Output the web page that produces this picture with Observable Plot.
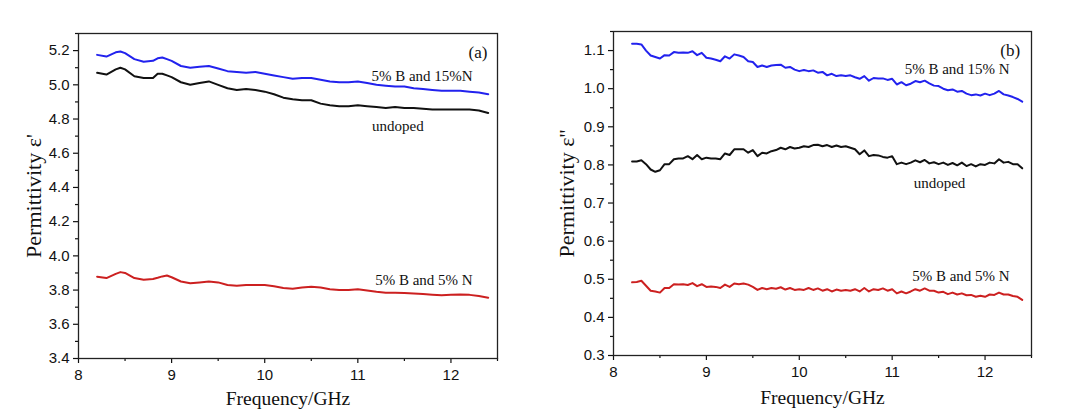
<!DOCTYPE html>
<html>
<head>
<meta charset="utf-8">
<script src="https://cdn.jsdelivr.net/npm/d3@7"></script>
<script src="https://cdn.jsdelivr.net/npm/@observablehq/plot@0.6"></script>
<style>
  html, body { margin: 0; padding: 0; background: #fff; }
  #wrap { display: flex; width: 1067px; height: 412px; }
  svg { display: block; }
</style>
</head>
<body>
<div id="wrap"></div>
<script>
// ---------- Panel (a): real permittivity ----------
const freqA = [8.2, 8.3, 8.4, 8.45, 8.5, 8.6, 8.7, 8.8, 8.85, 8.9, 8.95, 9.0,
  9.1, 9.2, 9.3, 9.4, 9.5, 9.6, 9.7, 9.8, 9.9,
  10.0, 10.1, 10.2, 10.3, 10.4, 10.5, 10.6, 10.7, 10.8, 10.9,
  11.0, 11.1, 11.2, 11.3, 11.4, 11.5, 11.6, 11.7, 11.8, 11.9,
  12.0, 12.1, 12.2, 12.3, 12.4];
const a_B15N = [5.175, 5.165, 5.19, 5.195, 5.185, 5.15, 5.135, 5.14, 5.155, 5.16, 5.15, 5.14,
  5.11, 5.10, 5.105, 5.11, 5.095, 5.08, 5.075, 5.07, 5.075,
  5.065, 5.055, 5.045, 5.035, 5.04, 5.04, 5.03, 5.02, 5.015, 5.015,
  5.02, 5.01, 5.0, 4.995, 4.99, 4.99, 4.98, 4.975, 4.97, 4.965,
  4.965, 4.965, 4.96, 4.955, 4.945];
const a_undoped = [5.07, 5.06, 5.09, 5.10, 5.09, 5.05, 5.04, 5.04, 5.065, 5.065, 5.055, 5.045,
  5.015, 5.0, 5.01, 5.02, 5.0, 4.98, 4.97, 4.975, 4.97,
  4.96, 4.945, 4.925, 4.915, 4.91, 4.91, 4.89, 4.88, 4.875, 4.875,
  4.88, 4.875, 4.87, 4.865, 4.87, 4.865, 4.865, 4.86, 4.855, 4.855,
  4.855, 4.855, 4.855, 4.85, 4.835];
const a_B5N = [3.878, 3.87, 3.895, 3.905, 3.90, 3.87, 3.86, 3.865, 3.872, 3.88, 3.885, 3.875,
  3.85, 3.84, 3.845, 3.85, 3.845, 3.83, 3.825, 3.83, 3.83,
  3.83, 3.822, 3.812, 3.808, 3.815, 3.82, 3.815, 3.805, 3.80, 3.80,
  3.805, 3.797, 3.79, 3.785, 3.785, 3.783, 3.78, 3.777, 3.773, 3.77,
  3.772, 3.774, 3.772, 3.765, 3.755];

// ---------- Panel (b): imaginary permittivity ----------
const freqB = [8.2, 8.25, 8.3, 8.35, 8.4, 8.45, 8.5, 8.55, 8.6, 8.65, 8.7, 8.75, 8.8, 8.85, 8.9, 8.95,
  9.0, 9.05, 9.1, 9.15, 9.2, 9.25, 9.3, 9.35, 9.4, 9.45, 9.5, 9.55, 9.6, 9.65, 9.7, 9.75, 9.8, 9.85, 9.9, 9.95,
  10.0, 10.05, 10.1, 10.15, 10.2, 10.25, 10.3, 10.35, 10.4, 10.45, 10.5, 10.55, 10.6, 10.65, 10.7, 10.75, 10.8, 10.85, 10.9, 10.95,
  11.0, 11.05, 11.1, 11.15, 11.2, 11.25, 11.3, 11.35, 11.4, 11.45, 11.5, 11.55, 11.6, 11.65, 11.7, 11.75, 11.8, 11.85, 11.9, 11.95,
  12.0, 12.05, 12.1, 12.15, 12.2, 12.25, 12.3, 12.35, 12.4];
const b_B15N = [1.118, 1.118, 1.116, 1.10, 1.087, 1.083, 1.079, 1.088, 1.087, 1.096, 1.094, 1.095, 1.094, 1.098, 1.088, 1.094,
  1.081, 1.079, 1.076, 1.072, 1.085, 1.079, 1.09, 1.087, 1.083, 1.072, 1.07, 1.057, 1.061, 1.057, 1.061, 1.062, 1.063, 1.055, 1.057, 1.05,
  1.046, 1.049, 1.046, 1.048, 1.042, 1.044, 1.035, 1.039, 1.033, 1.035, 1.033, 1.035, 1.03, 1.026, 1.033, 1.021, 1.028, 1.027, 1.027, 1.023,
  1.026, 1.011, 1.017, 1.009, 1.013, 1.02, 1.017, 1.021, 1.014, 1.008, 1.007, 1.0, 0.996, 0.998, 0.992, 0.994, 0.987, 0.983, 0.985, 0.982,
  0.987, 0.983, 0.987, 0.994, 0.985, 0.982, 0.978, 0.973, 0.966];
const b_undoped = [0.809, 0.809, 0.812, 0.802, 0.788, 0.782, 0.786, 0.802, 0.802, 0.815, 0.817, 0.817, 0.823, 0.815, 0.826, 0.815,
  0.819, 0.817, 0.817, 0.815, 0.83, 0.826, 0.841, 0.841, 0.841, 0.832, 0.839, 0.823, 0.832, 0.83, 0.836, 0.839, 0.845, 0.841, 0.847, 0.843,
  0.845, 0.849, 0.847, 0.852, 0.853, 0.849, 0.852, 0.847, 0.851, 0.847, 0.849, 0.845, 0.841, 0.828, 0.838, 0.823, 0.826, 0.825, 0.821, 0.819,
  0.823, 0.802, 0.806, 0.802, 0.806, 0.812, 0.807, 0.813, 0.804, 0.807, 0.802, 0.806, 0.8, 0.805, 0.799, 0.806, 0.797, 0.802, 0.796, 0.802,
  0.8, 0.806, 0.804, 0.815, 0.806, 0.808, 0.802, 0.802, 0.791];
const b_B5N = [0.492, 0.493, 0.496, 0.483, 0.47, 0.468, 0.465, 0.477, 0.477, 0.487, 0.486, 0.487, 0.485, 0.49, 0.482, 0.487,
  0.48, 0.481, 0.48, 0.477, 0.486, 0.48, 0.489, 0.487, 0.489, 0.486, 0.48, 0.472, 0.477, 0.474, 0.477, 0.475, 0.479, 0.473, 0.477, 0.472,
  0.474, 0.472, 0.477, 0.472, 0.476, 0.47, 0.474, 0.468, 0.473, 0.47, 0.472, 0.47, 0.474, 0.468, 0.477, 0.468, 0.474, 0.472, 0.476, 0.47,
  0.474, 0.463, 0.468, 0.463, 0.468, 0.474, 0.47, 0.476, 0.47, 0.47, 0.465, 0.467, 0.461, 0.465, 0.46, 0.463, 0.458, 0.459, 0.454, 0.457,
  0.454, 0.46, 0.459, 0.465, 0.46, 0.46, 0.456, 0.454, 0.446];

// ---------- Labels and ticks ----------
const seriesNames = ["5% B and 15% N", "undoped", "5% B and 5% N"];
const seriesColors = ["#2222ee", "#111111", "#cc2020"];
const xTicks = [8, 9, 10, 11, 12];
const xMinor = [8.5, 9.5, 10.5, 11.5, 12.5];
const yTicksA = [3.4, 3.6, 3.8, 4.0, 4.2, 4.4, 4.6, 4.8, 5.0, 5.2];
const yMinorA = [3.5, 3.7, 3.9, 4.1, 4.3, 4.5, 4.7, 4.9, 5.1, 5.3];
const yTicksB = [0.3, 0.4, 0.5, 0.6, 0.7, 0.8, 0.9, 1.0, 1.1];
const yMinorB = [0.35, 0.45, 0.55, 0.65, 0.75, 0.85, 0.95, 1.05, 1.15];
const notesA = [
  {x: 11.69, y: 5.048, t: "5% B and 15%N"},
  {x: 11.43, y: 4.76, t: "undoped"},
  {x: 11.71, y: 3.855, t: "5% B and 5% N"}
];
const panelTagA = [{x: 12.29, y: 5.19, t: "(a)"}];
const notesB = [
  {x: 11.70, y: 1.052, t: "5% B and 15% N"},
  {x: 11.51, y: 0.753, t: "undoped"},
  {x: 11.74, y: 0.507, t: "5% B and 5% N"}
];
const panelTagB = [{x: 12.27, y: 1.10, t: "(b)"}];

function rows(freq, arrays) {
  const out = [];
  arrays.forEach((arr, k) => arr.forEach((v, i) => out.push({f: freq[i], v, s: seriesNames[k]})));
  return out;
}

const SERIF = "Liberation Serif, Times New Roman, serif";
const SANS = "Liberation Sans, Arial, sans-serif";

function panel({width, marginLeft, marginRight, marginTop, marginBottom, yDomain, yTicks, yMinor, data, notes, tag, ylabel, ylabelDx, xlabelDy}) {
  return Plot.plot({
    width, height: 412, marginLeft, marginRight, marginTop, marginBottom,
    style: {fontFamily: SANS, fontSize: "15px", color: "#111", background: "transparent"},
    x: {domain: [8, 12.5]},
    y: {domain: yDomain},
    color: {domain: seriesNames, range: seriesColors},
    marks: [
      Plot.axisX({ticks: xTicks, tickSize: 5, tickPadding: 6, tickFormat: d3.format("d"), label: null, strokeWidth: 1.2}),
      Plot.axisX({ticks: xMinor, tickSize: 3, text: null, label: null, strokeWidth: 1.2}),
      Plot.axisY({ticks: yTicks, tickSize: 5, tickPadding: 4, tickFormat: d3.format(".1f"), label: null, strokeWidth: 1.2}),
      Plot.axisY({ticks: yMinor, tickSize: 3, text: null, label: null, strokeWidth: 1.2}),
      Plot.frame({stroke: "#222", strokeWidth: 1.3}),
      Plot.line(data, {x: "f", y: "v", z: "s", stroke: "s", strokeWidth: 2}),
      Plot.text(notes, {x: "x", y: "y", text: "t", fontFamily: SERIF, fontSize: 15, fill: "#111"}),
      Plot.text(tag, {x: "x", y: "y", text: "t", fontFamily: SERIF, fontSize: 17, fill: "#111"}),
      Plot.text(["Frequency/GHz"], {frameAnchor: "bottom", lineAnchor: "middle", dy: xlabelDy, fontFamily: SERIF, fontSize: 19.5, fill: "#111"}),
      Plot.text([ylabel], {frameAnchor: "left", textAnchor: "middle", dx: ylabelDx, rotate: -90, fontFamily: SERIF, fontSize: 22, fill: "#111"})
    ]
  });
}

const wrap = document.getElementById("wrap");
wrap.append(panel({
  width: 533, marginLeft: 78, marginRight: 36, marginTop: 33, marginBottom: 54,
  yDomain: [3.4, 5.3], yTicks: yTicksA, yMinor: yMinorA,
  data: rows(freqA, [a_B15N, a_undoped, a_B5N]), notes: notesA, tag: panelTagA,
  ylabel: "Permittivity ε'", ylabelDx: -45, xlabelDy: 40
}));
wrap.append(panel({
  width: 534, marginLeft: 80, marginRight: 36, marginTop: 31, marginBottom: 57,
  yDomain: [0.3, 1.15], yTicks: yTicksB, yMinor: yMinorB,
  data: rows(freqB, [b_B15N, b_undoped, b_B5N]), notes: notesB, tag: panelTagB,
  ylabel: "Permittivity ε''", ylabelDx: -47, xlabelDy: 42
}));
</script>
</body>
</html>
